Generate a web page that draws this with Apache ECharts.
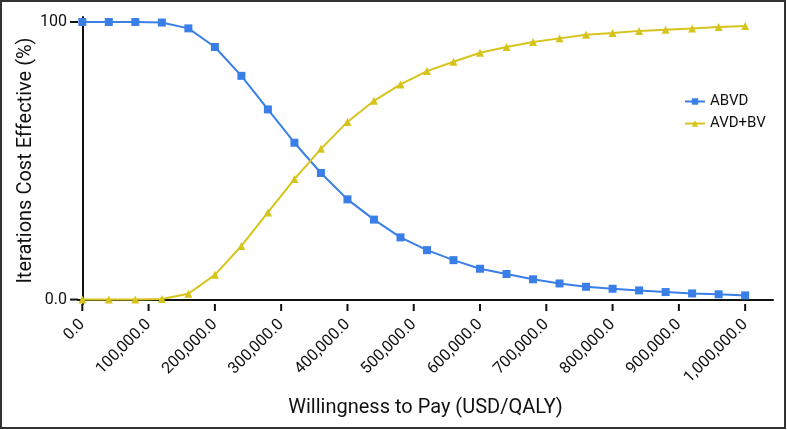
<!DOCTYPE html>
<html>
<head>
<meta charset="utf-8">
<script src="https://cdn.jsdelivr.net/npm/echarts@6/dist/echarts.min.js"></script>
<style>
html,body{margin:0;padding:0;background:#fff;}
#chart{width:787px;height:430px;}
</style>
</head>
<body>
<div id="chart"></div>
<script>
// Willingness to pay (USD/QALY)
const wtp = [0,40000,80000,120000,160000,200000,240000,280000,320000,360000,400000,440000,480000,520000,560000,600000,640000,680000,720000,760000,800000,840000,880000,920000,960000,1000000];
const abvd = [100,100,100,99.8,97.7,91.0,80.6,68.5,56.5,45.6,36.1,28.8,22.4,17.8,14.2,11.1,9.2,7.3,5.8,4.6,3.9,3.3,2.7,2.2,1.9,1.5];
const avdbv = [0,0,0,0.2,2.1,8.9,19.3,31.4,43.4,54.3,64.0,71.6,77.5,82.3,85.7,88.9,91.0,92.8,94.1,95.4,96.0,96.8,97.2,97.7,98.2,98.6];
const xTicks = [0,100000,200000,300000,400000,500000,600000,700000,800000,900000,1000000];
const yTicks = [0,100];
const yTickLabels = {0:'0.0',100:'100'};

const FONT = 'Roboto, "Liberation Sans", sans-serif';
const X_MIN = -6500, X_MAX = 1042000, Y_MIN = -1.6, Y_MAX = 101.8;
const chart = echarts.init(document.getElementById('chart'), null, {renderer:'canvas'});
chart.setOption({
  animation:false,
  backgroundColor:'#fff',
  grid:{left:78,right:14,top:17,bottom:126},
  legend:{
    orient:'vertical',left:679,top:89,itemWidth:20,itemHeight:8,itemGap:7,
    textStyle:{fontFamily:FONT,fontSize:15,color:'#111'},
    data:['ABVD','AVD+BV']
  },
  xAxis:{
    type:'value',min:X_MIN,max:X_MAX,
    name:'Willingness to Pay (USD/QALY)',nameLocation:'middle',nameGap:94,nameMoveOverlap:false,
    nameTextStyle:{fontFamily:FONT,fontSize:20,color:'#111'},
    axisLine:{lineStyle:{color:'#111',width:2}},
    axisTick:{show:false},
    axisLabel:{customValues:xTicks,rotate:45,fontFamily:FONT,fontSize:16,color:'#111',margin:18,
      formatter:v=>v.toLocaleString('en-US',{minimumFractionDigits:1,maximumFractionDigits:1})},
    splitLine:{show:false}
  },
  yAxis:{
    type:'value',min:Y_MIN,max:Y_MAX,
    name:'Iterations Cost Effective (%)',nameLocation:'middle',nameGap:42,nameRotate:90,nameMoveOverlap:false,
    nameTextStyle:{fontFamily:FONT,fontSize:20,color:'#111'},
    axisLine:{show:true,lineStyle:{color:'#111',width:2}},
    axisTick:{show:false},
    axisLabel:{customValues:yTicks,fontFamily:FONT,fontSize:16,color:'#111',margin:11,
      formatter:v=>yTickLabels[v]!==undefined?yTickLabels[v]:''},
    splitLine:{show:false}
  },
  series:[
    {name:'ABVD',type:'line',data:wtp.map((x,i)=>[x,abvd[i]]),symbol:'rect',symbolSize:8,
      color:'#3a7fe8',lineStyle:{width:2,color:'#3a7fe8'},itemStyle:{color:'#3a7fe8'}},
    {name:'AVD+BV',type:'line',data:wtp.map((x,i)=>[x,avdbv[i]]),symbol:'triangle',symbolSize:8,
      color:'#d6c41c',lineStyle:{width:2,color:'#d6c41c'},itemStyle:{color:'#d6c41c'}}
  ]
});
// axis ticks placed through the chart's own scales
const g = [{type:'rect',shape:{x:1,y:1,width:784,height:427},style:{fill:'none',stroke:'#333',lineWidth:2},z:100}];
xTicks.forEach(v=>{
  const p = chart.convertToPixel({gridIndex:0},[v,Y_MIN]);
  g.push({type:'line',shape:{x1:p[0],y1:p[1],x2:p[0],y2:p[1]+7},style:{stroke:'#111',lineWidth:2},z:50});
});
yTicks.forEach(v=>{
  const p = chart.convertToPixel({gridIndex:0},[X_MIN,v]);
  g.push({type:'line',shape:{x1:p[0]-8,y1:p[1],x2:p[0],y2:p[1]},style:{stroke:'#111',lineWidth:2},z:50});
});
chart.setOption({graphic:g});
</script>
</body>
</html>
